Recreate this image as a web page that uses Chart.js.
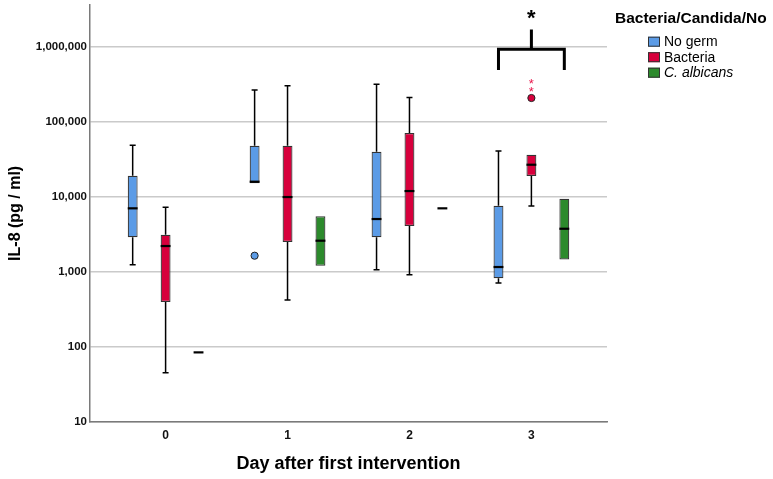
<!DOCTYPE html>
<html>
<head>
<meta charset="utf-8">
<script src="https://cdn.jsdelivr.net/npm/chart.js@4.4.0/dist/chart.umd.min.js"></script>
<style>
  html, body { margin: 0; padding: 0; background: #fff; }
</style>
</head>
<body>
<canvas id="grafico" width="773" height="479"></canvas>
<script>
var dias = [0, 1, 2, 3];
var etiquetasY = [10, 100, 1000, 10000, 100000, 1000000];

// por dia: [min, q1, mediana, q3, max]
var noGerm = [[1240, 2880, 7000, 19000, 48400], [15100, 15100, 15850, 47900, 265000], [1064, 2880, 5040, 39800, 316000], [706, 817, 1155, 7590, 40600]];
var bacteria = [[45, 394, 2200, 3110, 7230], [420, 2490, 9900, 47900, 302000], [912, 4060, 11900, 70600, 211000], [7520, 18900, 26700, 36300, 36300]];
var candida = [[84, 84, 84, 84, 84], [1200, 1200, 2590, 5480, 5480], [7000, 7000, 7000, 7000, 7000], [1460, 1460, 3740, 9400, 9400]];

// [dia, valor]
var noGermAtipicos = [[1, 1635]];
var bacteriaAtipicos = [[3, 207000]];
var bacteriaExtremos = [[3, 267000], [3, 349000]];

// corchete de significancia del dia 3: [abajo, linea, arriba del palo, asterisco]
var corchete = [489000, 922000, 1700000, 2500000];

Chart.defaults.font.family = "'Liberation Sans', Arial, sans-serif";

function cajas(serie) {
  return dias.map(function(d, i) {
    return { x: d, y: [serie[i][1], serie[i][3]] };
  });
}

var bigotes = {
  id: 'bigotes',
  afterDatasetsDraw: function(chart) {
    var ctx = chart.ctx;
    var ys = chart.scales.y;
    chart.data.datasets.forEach(function(ds, k) {
      var meta = chart.getDatasetMeta(k);
      ds.resumen.forEach(function(r, i) {
        var bar = meta.data[i];
        var x = bar.x, w = bar.width;
        ctx.save();
        ctx.strokeStyle = '#000';
        ctx.lineWidth = 1.5;
        ctx.beginPath();
        if (r[4] > r[3]) {
          ctx.moveTo(x, ys.getPixelForValue(r[3]));
          ctx.lineTo(x, ys.getPixelForValue(r[4]));
          ctx.moveTo(x - 3, ys.getPixelForValue(r[4]));
          ctx.lineTo(x + 3, ys.getPixelForValue(r[4]));
        }
        if (r[0] < r[1]) {
          ctx.moveTo(x, ys.getPixelForValue(r[1]));
          ctx.lineTo(x, ys.getPixelForValue(r[0]));
          ctx.moveTo(x - 3, ys.getPixelForValue(r[0]));
          ctx.lineTo(x + 3, ys.getPixelForValue(r[0]));
        }
        ctx.stroke();
        ctx.lineWidth = 2.2;
        ctx.beginPath();
        ctx.moveTo(x - w / 2, ys.getPixelForValue(r[2]));
        ctx.lineTo(x + w / 2, ys.getPixelForValue(r[2]));
        ctx.stroke();
        ctx.restore();
      });
      (ds.atipicos || []).forEach(function(p) {
        var bar = meta.data[dias.indexOf(p[0])];
        ctx.save();
        ctx.beginPath();
        ctx.arc(bar.x, ys.getPixelForValue(p[1]), 3.6, 0, Math.PI * 2);
        ctx.fillStyle = ds.backgroundColor;
        ctx.fill();
        ctx.strokeStyle = '#222';
        ctx.lineWidth = 1;
        ctx.stroke();
        ctx.restore();
      });
      (ds.extremos || []).forEach(function(p) {
        var bar = meta.data[dias.indexOf(p[0])];
        ctx.save();
        ctx.fillStyle = '#e8174b';
        ctx.font = "13px 'Liberation Sans'";
        ctx.textAlign = 'center';
        ctx.textBaseline = 'middle';
        ctx.fillText('*', bar.x, ys.getPixelForValue(p[1]) + 3);
        ctx.restore();
      });
    });

    // corchete del dia 3
    var i3 = dias.indexOf(3);
    var xa = chart.getDatasetMeta(0).data[i3].x;
    var xb = chart.getDatasetMeta(2).data[i3].x;
    var xm = (xa + xb) / 2;
    ctx.save();
    ctx.strokeStyle = '#000';
    ctx.lineWidth = 3;
    ctx.beginPath();
    ctx.moveTo(xa, ys.getPixelForValue(corchete[0]));
    ctx.lineTo(xa, ys.getPixelForValue(corchete[1]));
    ctx.lineTo(xb, ys.getPixelForValue(corchete[1]));
    ctx.lineTo(xb, ys.getPixelForValue(corchete[0]));
    ctx.moveTo(xm, ys.getPixelForValue(corchete[1]));
    ctx.lineTo(xm, ys.getPixelForValue(corchete[2]));
    ctx.stroke();
    ctx.fillStyle = '#000';
    ctx.font = "bold 22px 'Liberation Sans'";
    ctx.textAlign = 'center';
    ctx.textBaseline = 'middle';
    ctx.fillText('*', xm, ys.getPixelForValue(corchete[3]) + 2);
    ctx.restore();
  }
};

var leyenda = {
  id: 'leyenda',
  afterDraw: function(chart) {
    var ctx = chart.ctx;
    var x0 = chart.chartArea.right + 8;
    ctx.save();
    ctx.fillStyle = '#000';
    ctx.textBaseline = 'middle';
    ctx.font = "bold 15.5px 'Liberation Sans'";
    ctx.fillText('Bacteria/Candida/No', x0, 18.5);
    chart.data.datasets.forEach(function(ds, k) {
      var yc = 41.7 + k * 15.5;
      ctx.fillStyle = ds.backgroundColor;
      ctx.fillRect(x0 + 33, yc - 5, 12, 10);
      ctx.strokeStyle = '#333';
      ctx.lineWidth = 1;
      ctx.strokeRect(x0 + 33.5, yc - 4.5, 11, 9);
      ctx.fillStyle = '#000';
      ctx.font = (ds.cursiva ? 'italic ' : '') + "14px 'Liberation Sans'";
      ctx.fillText(ds.label, x0 + 49, yc + 0.5);
    });
    ctx.restore();
  }
};

var myChart = new Chart(document.getElementById('grafico'), {
  type: 'bar',
  data: {
    datasets: [
      { label: 'No germ', data: cajas(noGerm), resumen: noGerm, atipicos: noGermAtipicos, backgroundColor: '#5B9BE6' },
      { label: 'Bacteria', data: cajas(bacteria), resumen: bacteria, atipicos: bacteriaAtipicos, extremos: bacteriaExtremos, backgroundColor: '#D7003C' },
      { label: 'C. albicans', data: cajas(candida), resumen: candida, cursiva: true, backgroundColor: '#2C8A2C' }
    ]
  },
  options: {
    responsive: false,
    animation: false,
    layout: { padding: { top: 5, right: 166, left: 0, bottom: 0 } },
    datasets: {
      bar: {
        categoryPercentage: 0.81,
        barPercentage: 0.3,
        borderColor: '#333',
        borderWidth: 1.2,
        borderSkipped: false
      }
    },
    scales: {
      x: {
        type: 'linear',
        offset: false,
        min: -0.62,
        max: 3.62,
        afterBuildTicks: function(scale) {
          scale.ticks = dias.map(function(v) { return { value: v }; });
        },
        afterFit: function(scale) {
          scale.height = 57.3;
          scale.paddingLeft = 0;
          scale.paddingRight = 0;
        },
        grid: { display: false, drawTicks: false, offset: false },
        border: { display: true, color: '#7a7a7a', width: 1.5 },
        ticks: { color: '#111', font: { size: 12, weight: 'bold' }, padding: 7 },
        title: {
          display: true,
          text: 'Day after first intervention',
          color: '#000',
          font: { size: 18, weight: 'bold' },
          padding: { top: 0, bottom: 4 }
        }
      },
      y: {
        type: 'logarithmic',
        min: 10,
        max: 3600000,
        afterBuildTicks: function(scale) {
          scale.ticks = etiquetasY.map(function(v) { return { value: v }; });
        },
        afterFit: function(scale) {
          scale.width = 90;
          scale.paddingTop = 0;
          scale.paddingBottom = 0;
        },
        grid: { color: '#cacaca', lineWidth: 1.5, drawTicks: false },
        border: { display: true, color: '#7a7a7a', width: 1.5 },
        ticks: {
          color: '#111',
          font: { size: 11.5, weight: 'bold' },
          padding: 3,
          callback: function(v) { return Number(v).toLocaleString('en-US'); }
        },
        title: {
          display: true,
          text: 'IL-8 (pg / ml)',
          color: '#000',
          font: { size: 16, weight: 'bold' },
          padding: { top: 6, bottom: 0 }
        }
      }
    },
    plugins: {
      legend: { display: false },
      tooltip: { enabled: false }
    }
  },
  plugins: [bigotes, leyenda]
});
</script>
</body>
</html>
